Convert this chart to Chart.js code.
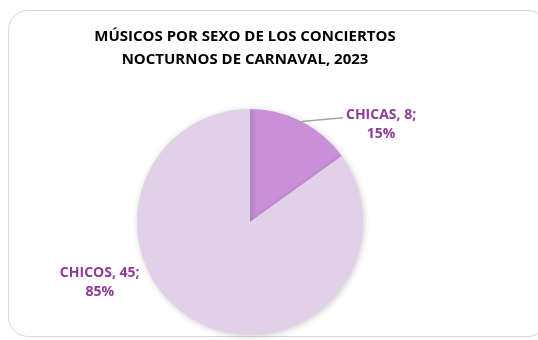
<!DOCTYPE html>
<html>
<head>
<meta charset="utf-8">
<script src="https://cdn.jsdelivr.net/npm/chart.js@4.4.0/dist/chart.umd.min.js"></script>
<style>
  html, body { margin: 0; padding: 0; background: #fff; }
  #wrap { position: relative; width: 538px; height: 340px; }
  #frame { position: absolute; left: 8px; top: 10px; width: 540px; height: 327px;
           border: 1px solid #d9d9d9; border-radius: 20px; box-sizing: border-box; }
  canvas { position: absolute; left: 0; top: 0; }
</style>
</head>
<body>
<div id="wrap">
  <div id="frame"></div>
  <canvas id="pieChart" width="538" height="340"></canvas>
</div>
<script>
const titleLines = ['MÚSICOS POR SEXO DE LOS CONCIERTOS', 'NOCTURNOS DE CARNAVAL, 2023'];
const categories = ['CHICAS', 'CHICOS'];
const values = [8, 45];
const sliceColors = ['#c990d8', '#e2d0e8'];
const labelColor = '#8e3c98';

// label anchor offsets, as fraction of radius from pie center
const labelSpots = [
  { dx: 1.16, dy: -0.95 },
  { dx: -1.33, dy: 0.45 }
];

const total = values.reduce((a, b) => a + b, 0);

const titlePlugin = {
  id: 'titleText',
  afterDraw(chart) {
    const c = chart.ctx;
    c.save();
    c.fillStyle = '#000';
    c.font = 'bold 15px "Open Sans"';
    c.textAlign = 'center';
    c.textBaseline = 'middle';
    titleLines.forEach((t, i) => c.fillText(t, 245, 37 + i * 23));
    c.restore();
  }
};

const shadowPlugin = {
  id: 'pieShadow',
  beforeDatasetDraw(chart) {
    const c = chart.ctx;
    c.save();
    c.shadowColor = 'rgba(0,0,0,0.2)';
    c.shadowBlur = 6;
    c.shadowOffsetX = 1;
    c.shadowOffsetY = 1;
  },
  afterDatasetDraw(chart) {
    chart.ctx.restore();
  }
};

const labelPlugin = {
  id: 'sliceLabels',
  afterDraw(chart) {
    const c = chart.ctx;
    const arcs = chart.getDatasetMeta(0).data;
    const cx = arcs[0].x, cy = arcs[0].y, r = arcs[0].outerRadius;
    c.save();
    c.font = 'bold 14px "Open Sans"';
    c.fillStyle = labelColor;
    c.textAlign = 'center';
    c.textBaseline = 'middle';
    arcs.forEach((arc, i) => {
      const lx = cx + labelSpots[i].dx * r;
      const ly = cy + labelSpots[i].dy * r;
      const pct = Math.round(values[i] / total * 100);
      c.fillText(categories[i] + ', ' + values[i] + ';', lx, ly);
      c.fillText(pct + '%', lx, ly + 19);
    });
    // leader line for the small slice
    const a0 = arcs[0];
    const mid = (a0.startAngle + a0.endAngle) / 2;
    c.strokeStyle = '#a6a6a6';
    c.lineWidth = 1.5;
    c.beginPath();
    c.moveTo(cx + Math.cos(mid) * r, cy + Math.sin(mid) * r);
    c.lineTo(cx + labelSpots[0].dx * r - 38, cy + labelSpots[0].dy * r + 3);
    c.stroke();
    c.restore();
  }
};

new Chart(document.getElementById('pieChart'), {
  type: 'pie',
  data: {
    labels: categories,
    datasets: [{ data: values, backgroundColor: sliceColors, borderWidth: 0 }]
  },
  options: {
    responsive: false,
    animation: false,
    layout: { padding: { left: 137, right: 175, top: 109, bottom: 5 } },
    plugins: { legend: { display: false }, title: { display: false }, tooltip: { enabled: false } }
  },
  plugins: [shadowPlugin, titlePlugin, labelPlugin]
});
</script>
</body>
</html>
